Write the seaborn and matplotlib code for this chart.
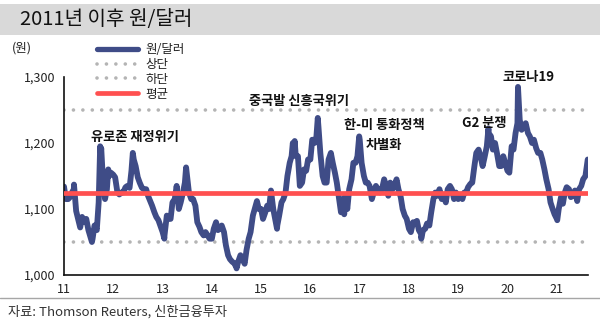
import numpy as np
import pandas as pd
import matplotlib
matplotlib.use("Agg")
import matplotlib.pyplot as plt
from matplotlib.lines import Line2D
from matplotlib.patches import Rectangle
import seaborn as sns

# ---------------- data (KRW per USD) ----------------
# values on the 1st and 15th of each month
krw_2011 = [1134, 1115, 1115, 1118, 1125, 1130, 1097, 1085, 1072, 1088, 1080, 1085,
            1068, 1058, 1055, 1075, 1068, 1110, 1185, 1150, 1115, 1130, 1150, 1155]
krw_2012 = [1152, 1148, 1125, 1122, 1125, 1125, 1133, 1135, 1132, 1158, 1175, 1165,
            1148, 1140, 1132, 1130, 1130, 1120, 1112, 1105, 1095, 1088, 1083, 1075]
krw_2013 = [1065, 1060, 1090, 1085, 1085, 1110, 1115, 1135, 1100, 1110, 1125, 1140,
            1150, 1125, 1115, 1115, 1105, 1080, 1073, 1065, 1060, 1065, 1060, 1055]
krw_2014 = [1055, 1070, 1080, 1068, 1070, 1075, 1065, 1045, 1030, 1024, 1020, 1018,
            1012, 1020, 1030, 1025, 1017, 1038, 1055, 1065, 1090, 1100, 1112, 1100]
krw_2015 = [1100, 1085, 1095, 1105, 1100, 1128, 1100, 1085, 1075, 1090, 1110, 1115,
            1125, 1150, 1170, 1180, 1185, 1180, 1180, 1135, 1140, 1160, 1158, 1175]
krw_2016 = [1175, 1205, 1200, 1210, 1225, 1185, 1150, 1140, 1140, 1175, 1185, 1170,
            1155, 1140, 1115, 1095, 1115, 1120, 1100, 1130, 1145, 1170, 1170, 1180]
krw_2017 = [1205, 1170, 1150, 1140, 1140, 1135, 1115, 1125, 1135, 1130, 1125, 1130,
            1145, 1135, 1120, 1140, 1130, 1135, 1145, 1130, 1118, 1100, 1090, 1085]
krw_2018 = [1070, 1065, 1080, 1078, 1082, 1068, 1062, 1068, 1070, 1078, 1075, 1095,
            1115, 1125, 1120, 1130, 1115, 1120, 1110, 1130, 1135, 1130, 1115, 1125]
krw_2019 = [1115, 1120, 1115, 1125, 1125, 1133, 1138, 1140, 1165, 1185, 1190, 1180,
            1165, 1178, 1195, 1215, 1210, 1190, 1200, 1185, 1165, 1165, 1180, 1170]
krw_2020 = [1158, 1155, 1195, 1190, 1215, 1230, 1235, 1220, 1225, 1230, 1215, 1210,
            1200, 1205, 1192, 1185, 1185, 1175, 1160, 1145, 1130, 1110, 1100, 1092]
krw_2021 = [1085, 1100, 1118, 1108, 1125, 1133, 1130, 1118, 1120, 1128, 1112, 1130,
            1135, 1145, 1150, 1170]

# extreme points visible in the chart
peak_dates = ["2011-03-16", "2011-07-27", "2011-09-26", "2011-10-04", "2011-11-25",
              "2012-05-25", "2013-01-14", "2013-06-24", "2014-07-03", "2015-04-29",
              "2015-08-24", "2015-09-07", "2016-02-25", "2016-09-08", "2016-12-28",
              "2018-04-02", "2019-08-13", "2020-03-19", "2021-01-04", "2021-08-18"]
peak_vals = [1137, 1050, 1195, 1192, 1160,
             1185, 1055, 1163, 1010, 1070,
             1200, 1203, 1238, 1092, 1210,
             1055, 1222, 1285, 1083, 1175]

upper_band = 1250
lower_band = 1050
mean_level = 1125

y_ticks = [1000, 1100, 1200, 1300]
x_years = list(range(2011, 2022))
x_labels = ["11", "12", "13", "14", "15", "16", "17", "18", "19", "20", "21"]

series_names = ["원/달러", "상단", "하단", "평균"]
title_text = "2011년 이후 원/달러"
unit_text = "(원)"
source_text = "자료: Thomson Reuters, 신한금융투자"
notes = ["유로존 재정위기", "중국발 신흥국위기", "한-미 통화정책", "차별화", "G2 분쟁", "코로나19"]

# ---------------- build table ----------------
yearly = {2011: krw_2011, 2012: krw_2012, 2013: krw_2013, 2014: krw_2014,
          2015: krw_2015, 2016: krw_2016, 2017: krw_2017, 2018: krw_2018,
          2019: krw_2019, 2020: krw_2020, 2021: krw_2021}
rows = []
for yr, vals in yearly.items():
    for i, v in enumerate(vals):
        m = i // 2 + 1
        d = 1 if i % 2 == 0 else 15
        rows.append((pd.Timestamp(yr, m, d), v))
for ds, v in zip(peak_dates, peak_vals):
    rows.append((pd.Timestamp(ds), v))
df = pd.DataFrame(rows, columns=["date", "krw"]).sort_values("date").reset_index(drop=True)

# ---------------- style ----------------
sns.set_theme(style="white")
plt.rcParams["font.family"] = ["Noto Sans CJK KR", "DejaVu Sans"]
plt.rcParams["axes.unicode_minus"] = False

NAVY = "#3F4C87"
RED = "#FF5050"
GRAY = "#B4B4B4"

W, H = 600, 325
fig = plt.figure(figsize=(6, 3.25), dpi=100)
fig.patch.set_facecolor("white")

def fx(px):
    return px / W

def fy(py):
    return 1 - py / H

# title band
fig.patches.append(Rectangle((0, fy(35)), 1, fy(4) - fy(35), transform=fig.transFigure,
                             facecolor="#D9D9D9", edgecolor="none", zorder=0))
fig.text(fx(20), fy(20), title_text, fontsize=14.5, va="center", ha="left", color="#111111")

ax = fig.add_axes([fx(64), fy(275), fx(588) - fx(64), fy(77) - fy(275)])

dot_style = (0, (0.01, 2.6))
ax.axhline(upper_band, color=GRAY, lw=2.6, linestyle=dot_style, dash_capstyle="round", zorder=1)
ax.axhline(lower_band, color=GRAY, lw=2.6, linestyle=dot_style, dash_capstyle="round", zorder=1)
sns.lineplot(data=df, x="date", y="krw", ax=ax, color=NAVY, lw=4.2, zorder=2,
             solid_joinstyle="round", solid_capstyle="round")
ax.axhline(mean_level, color=RED, lw=3.4, zorder=3)

ax.set_xlim(pd.Timestamp("2011-01-01"), pd.Timestamp("2021-08-20"))
ax.set_ylim(1000, 1300)
ax.set_xticks([pd.Timestamp(y, 1, 1) for y in x_years])
ax.set_xticklabels(x_labels)
ax.set_yticks(y_ticks)
ax.set_yticklabels([f"{v:,}" for v in y_ticks])
ax.set_xlabel("")
ax.set_ylabel("")
for s in ["top", "right"]:
    ax.spines[s].set_visible(False)
for s in ["left", "bottom"]:
    ax.spines[s].set_color("#111111")
    ax.spines[s].set_linewidth(1.2)
ax.tick_params(axis="both", direction="out", length=3, width=1, colors="#111111",
               labelsize=9, labelcolor="#222222")
ax.tick_params(axis="x", pad=3)
ax.tick_params(axis="y", pad=3)
ax.grid(False)
ax.set_facecolor("white")

# annotations
txt = dict(fontsize=9.5, fontweight="bold", color="#111111", va="center")
ax.text(pd.Timestamp("2011-07-18"), 1209, notes[0], ha="left", **txt)
ax.text(pd.Timestamp("2014-10-05"), 1264, notes[1], ha="left", **txt)
ax.text(pd.Timestamp("2017-07-01"), 1227, notes[2], ha="center", **txt)
ax.text(pd.Timestamp("2017-07-01"), 1197, notes[3], ha="center", **txt)
ax.text(pd.Timestamp("2019-02-01"), 1230, notes[4], ha="left", **txt)
ax.text(pd.Timestamp("2019-11-25"), 1300, notes[5], ha="left", **txt)

# unit
fig.text(fx(12), fy(48), unit_text, fontsize=9, va="center", ha="left", color="#222222")

# legend
handles = [Line2D([], [], color=NAVY, lw=3.8, solid_capstyle="round"),
           Line2D([], [], color=GRAY, lw=2.6, linestyle=dot_style, dash_capstyle="round"),
           Line2D([], [], color=GRAY, lw=2.6, linestyle=dot_style, dash_capstyle="round"),
           Line2D([], [], color=RED, lw=3.4)]
leg = fig.legend(handles, series_names, loc="upper left", bbox_to_anchor=(fx(97), fy(43)),
                 frameon=False, fontsize=9, handlelength=3.3, handletextpad=0.6,
                 labelspacing=0.15, borderpad=0, borderaxespad=0)
for t in leg.get_texts():
    t.set_color("#222222")

# bottom separator & source
fig.add_artist(Line2D([0, 1], [fy(298), fy(298)], transform=fig.transFigure,
                      color="#A6A6A6", lw=1))
fig.text(fx(8), fy(312), source_text, fontsize=9.5, va="center", ha="left", color="#333333")

fig.savefig("out.png", dpi=100, facecolor="white")
